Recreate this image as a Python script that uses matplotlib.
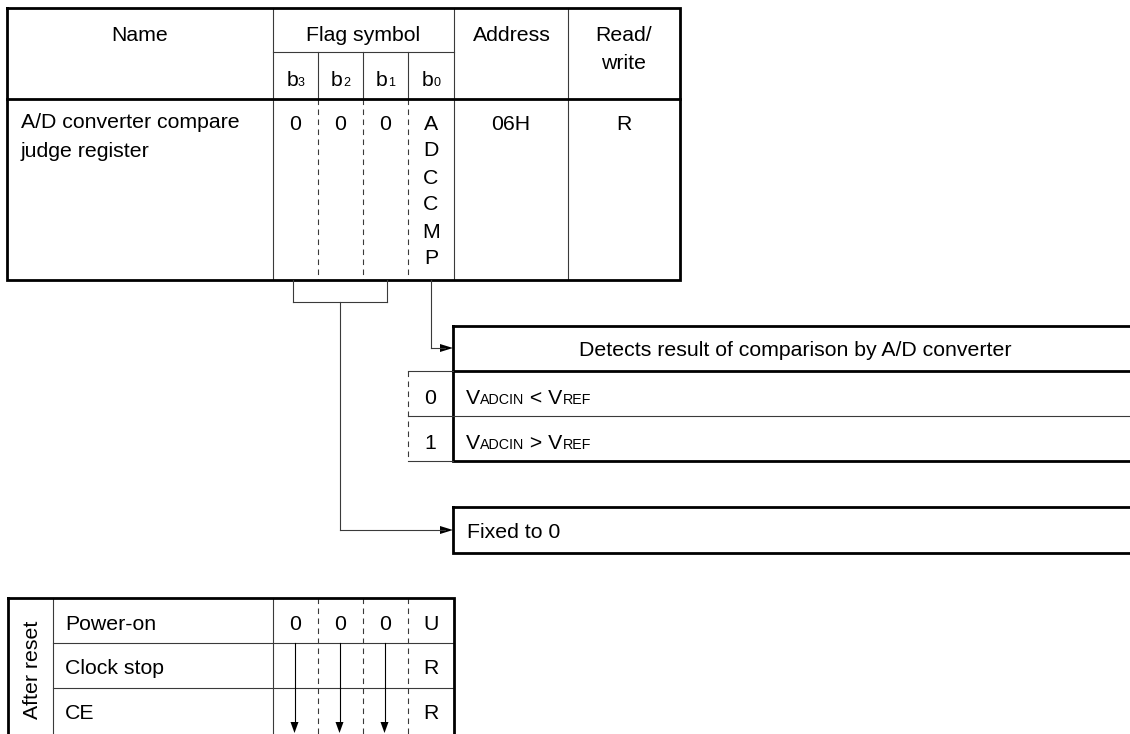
import matplotlib
matplotlib.use("Agg")
import matplotlib.pyplot as plt
from matplotlib.patches import Polygon

plt.rcParams["font.family"] = ["Liberation Sans", "DejaVu Sans"]

# register table contents
header_labels = ["Name", "Flag symbol", "Address", "Read/", "write"]
bit_numbers = ["3", "2", "1", "0"]
register_name = ["A/D converter compare", "judge register"]
bit_values = ["0", "0", "0"]
flag_name = "ADCCMP"
address = "06H"
read_write = "R"

# ADCCMP description
flag_title = "Detects result of comparison by A/D converter"
flag_states = ["0", "1"]
flag_meaning = [[("V", "big"), ("ADCIN", "small"), (" < V", "big"), ("REF", "small")],
                [("V", "big"), ("ADCIN", "small"), (" > V", "big"), ("REF", "small")]]
fixed_text = "Fixed to 0"

# after reset table
reset_title = "After reset"
reset_rows = ["Power-on", "Clock stop", "CE"]
reset_values = [["0", "0", "0", "U"], ["", "", "", "R"], ["", "", "", "R"]]
held_bits = [True, True, True, False]

F = 15.3
SIZES = {"big": F, "small": 10.3, "sub": 9.0}
THICK = 2.0
THIN = 0.8
DASH = (0, (5, 4))

fig = plt.figure(figsize=(11.3, 7.34), dpi=100)
ax = fig.add_axes([0, 0, 1, 1])
ax.set_xlim(0, 1130)
ax.set_ylim(734, 0)
ax.axis("off")
renderer = fig.canvas.get_renderer()


def hline(y, x0, x1, lw=THIN, ls="-", color="#3a3a3a"):
    ax.plot([x0, x1], [y, y], lw=lw, ls=ls, color=color, solid_capstyle="projecting")


def vline(x, y0, y1, lw=THIN, ls="-", color="#3a3a3a"):
    ax.plot([x, x], [y0, y1], lw=lw, ls=ls, color=color, solid_capstyle="projecting")


def box(x0, y0, x1, y1):
    ax.plot([x0, x1, x1, x0, x0], [y0, y0, y1, y1, y0], lw=THICK, color="black",
            solid_joinstyle="miter")


def txt(x, y, s, ha="center", size=F, **kw):
    ax.text(x, y, s, ha=ha, va="baseline", fontsize=size, color="black", **kw)


def runs(x, y, parts, center=False):
    items = []
    w = 0
    for s, kind in parts:
        t = ax.text(x + w, y, s, ha="left", va="baseline", fontsize=SIZES[kind], color="black")
        w += t.get_window_extent(renderer=renderer).width
        items.append(t)
    if center:
        for t in items:
            px, py = t.get_position()
            t.set_x(px - w / 2)


def arrow_right(x, y):
    ax.add_patch(Polygon([[x, y], [x - 13, y - 4], [x - 13, y + 4]], closed=True,
                         color="black", lw=0))


def arrow_down(x, y):
    ax.add_patch(Polygon([[x, y], [x - 4, y - 11], [x + 4, y - 11]], closed=True,
                         color="black", lw=0))


# ---- register table ----
L, R = 7, 680
top, sub, head, bot = 8, 52, 99, 280
name_r = 273
bit_x = [273, 318, 363, 408, 454]
addr_r = 568
bit_c = [(bit_x[i] + bit_x[i + 1]) / 2 for i in range(4)]

hline(sub, name_r, bit_x[-1])
for x in bit_x[1:-1]:
    vline(x, sub, head)
    vline(x, head, bot, ls=DASH)
for x in [name_r, bit_x[-1], addr_r]:
    vline(x, top, bot)
hline(head, L, R, lw=THICK, color="black")
box(L, top, R, bot)

txt(140, 41, header_labels[0])
txt(363, 41, header_labels[1])
txt(512, 41, header_labels[2])
txt(624, 41, header_labels[3])
txt(624, 69, header_labels[4])
for c, n in zip(bit_c, bit_numbers):
    runs(c, 86, [("b", "big"), (n, "sub")], center=True)

txt(21, 128, register_name[0], ha="left")
txt(21, 157, register_name[1], ha="left")
for c, v in zip(bit_c, bit_values):
    txt(c, 129.5, v)
for i, ch in enumerate(flag_name):
    txt(bit_c[3], 129.5 + 27 * i, ch)
txt(511, 129.5, address)
txt(624, 129.5, read_write)

# ---- leaders ----
vline(293, bot, 302)
vline(387, bot, 302)
hline(302, 293, 387)
vline(340, 302, 530)
hline(530, 340, 445)
arrow_right(453, 530)
vline(431, bot, 348)
hline(348, 431, 445)
arrow_right(453, 348)

# ---- ADCCMP description box ----
bx0, bx1 = 453, 1140
box(bx0, 326, bx1, 461)
hline(371, bx0, bx1, lw=THICK, color="black")
hline(416, 408, bx1)
hline(371, 408, bx0)
hline(461, 408, bx0)
vline(408, 371, 461, ls=DASH)
txt(795, 356, flag_title)
for i, (s, parts) in enumerate(zip(flag_states, flag_meaning)):
    yb = 403.5 + 45.5 * i
    txt(430, yb, s)
    runs(466, yb, parts)

box(bx0, 507, bx1, 553)
txt(467, 538, fixed_text, ha="left")

# ---- after reset table ----
rL, rR, rtop, rbot = 8, 454, 598, 740
col_a = 53
row_y = [598, 643, 688, 740]
for y in row_y[1:-1]:
    hline(y, col_a, rR)
vline(col_a, rtop, rbot)
vline(name_r, rtop, rbot)
for x in bit_x[1:-1]:
    vline(x, rtop, rbot, ls=DASH)
box(rL, rtop, rR, rbot)
ax.text(33, 670, reset_title, rotation=90, ha="center", va="center", fontsize=F)
for i, (label, vals) in enumerate(zip(reset_rows, reset_values)):
    yb = 630 + 44.5 * i
    txt(65, yb, label, ha="left")
    for c, v in zip(bit_c, vals):
        if v:
            txt(c, yb, v)
for c, held in zip(bit_c, held_bits):
    if held:
        vline(c - 1, 643, 724, color="black")
        arrow_down(c - 1, 733)

fig.savefig("out.png", dpi=100)
